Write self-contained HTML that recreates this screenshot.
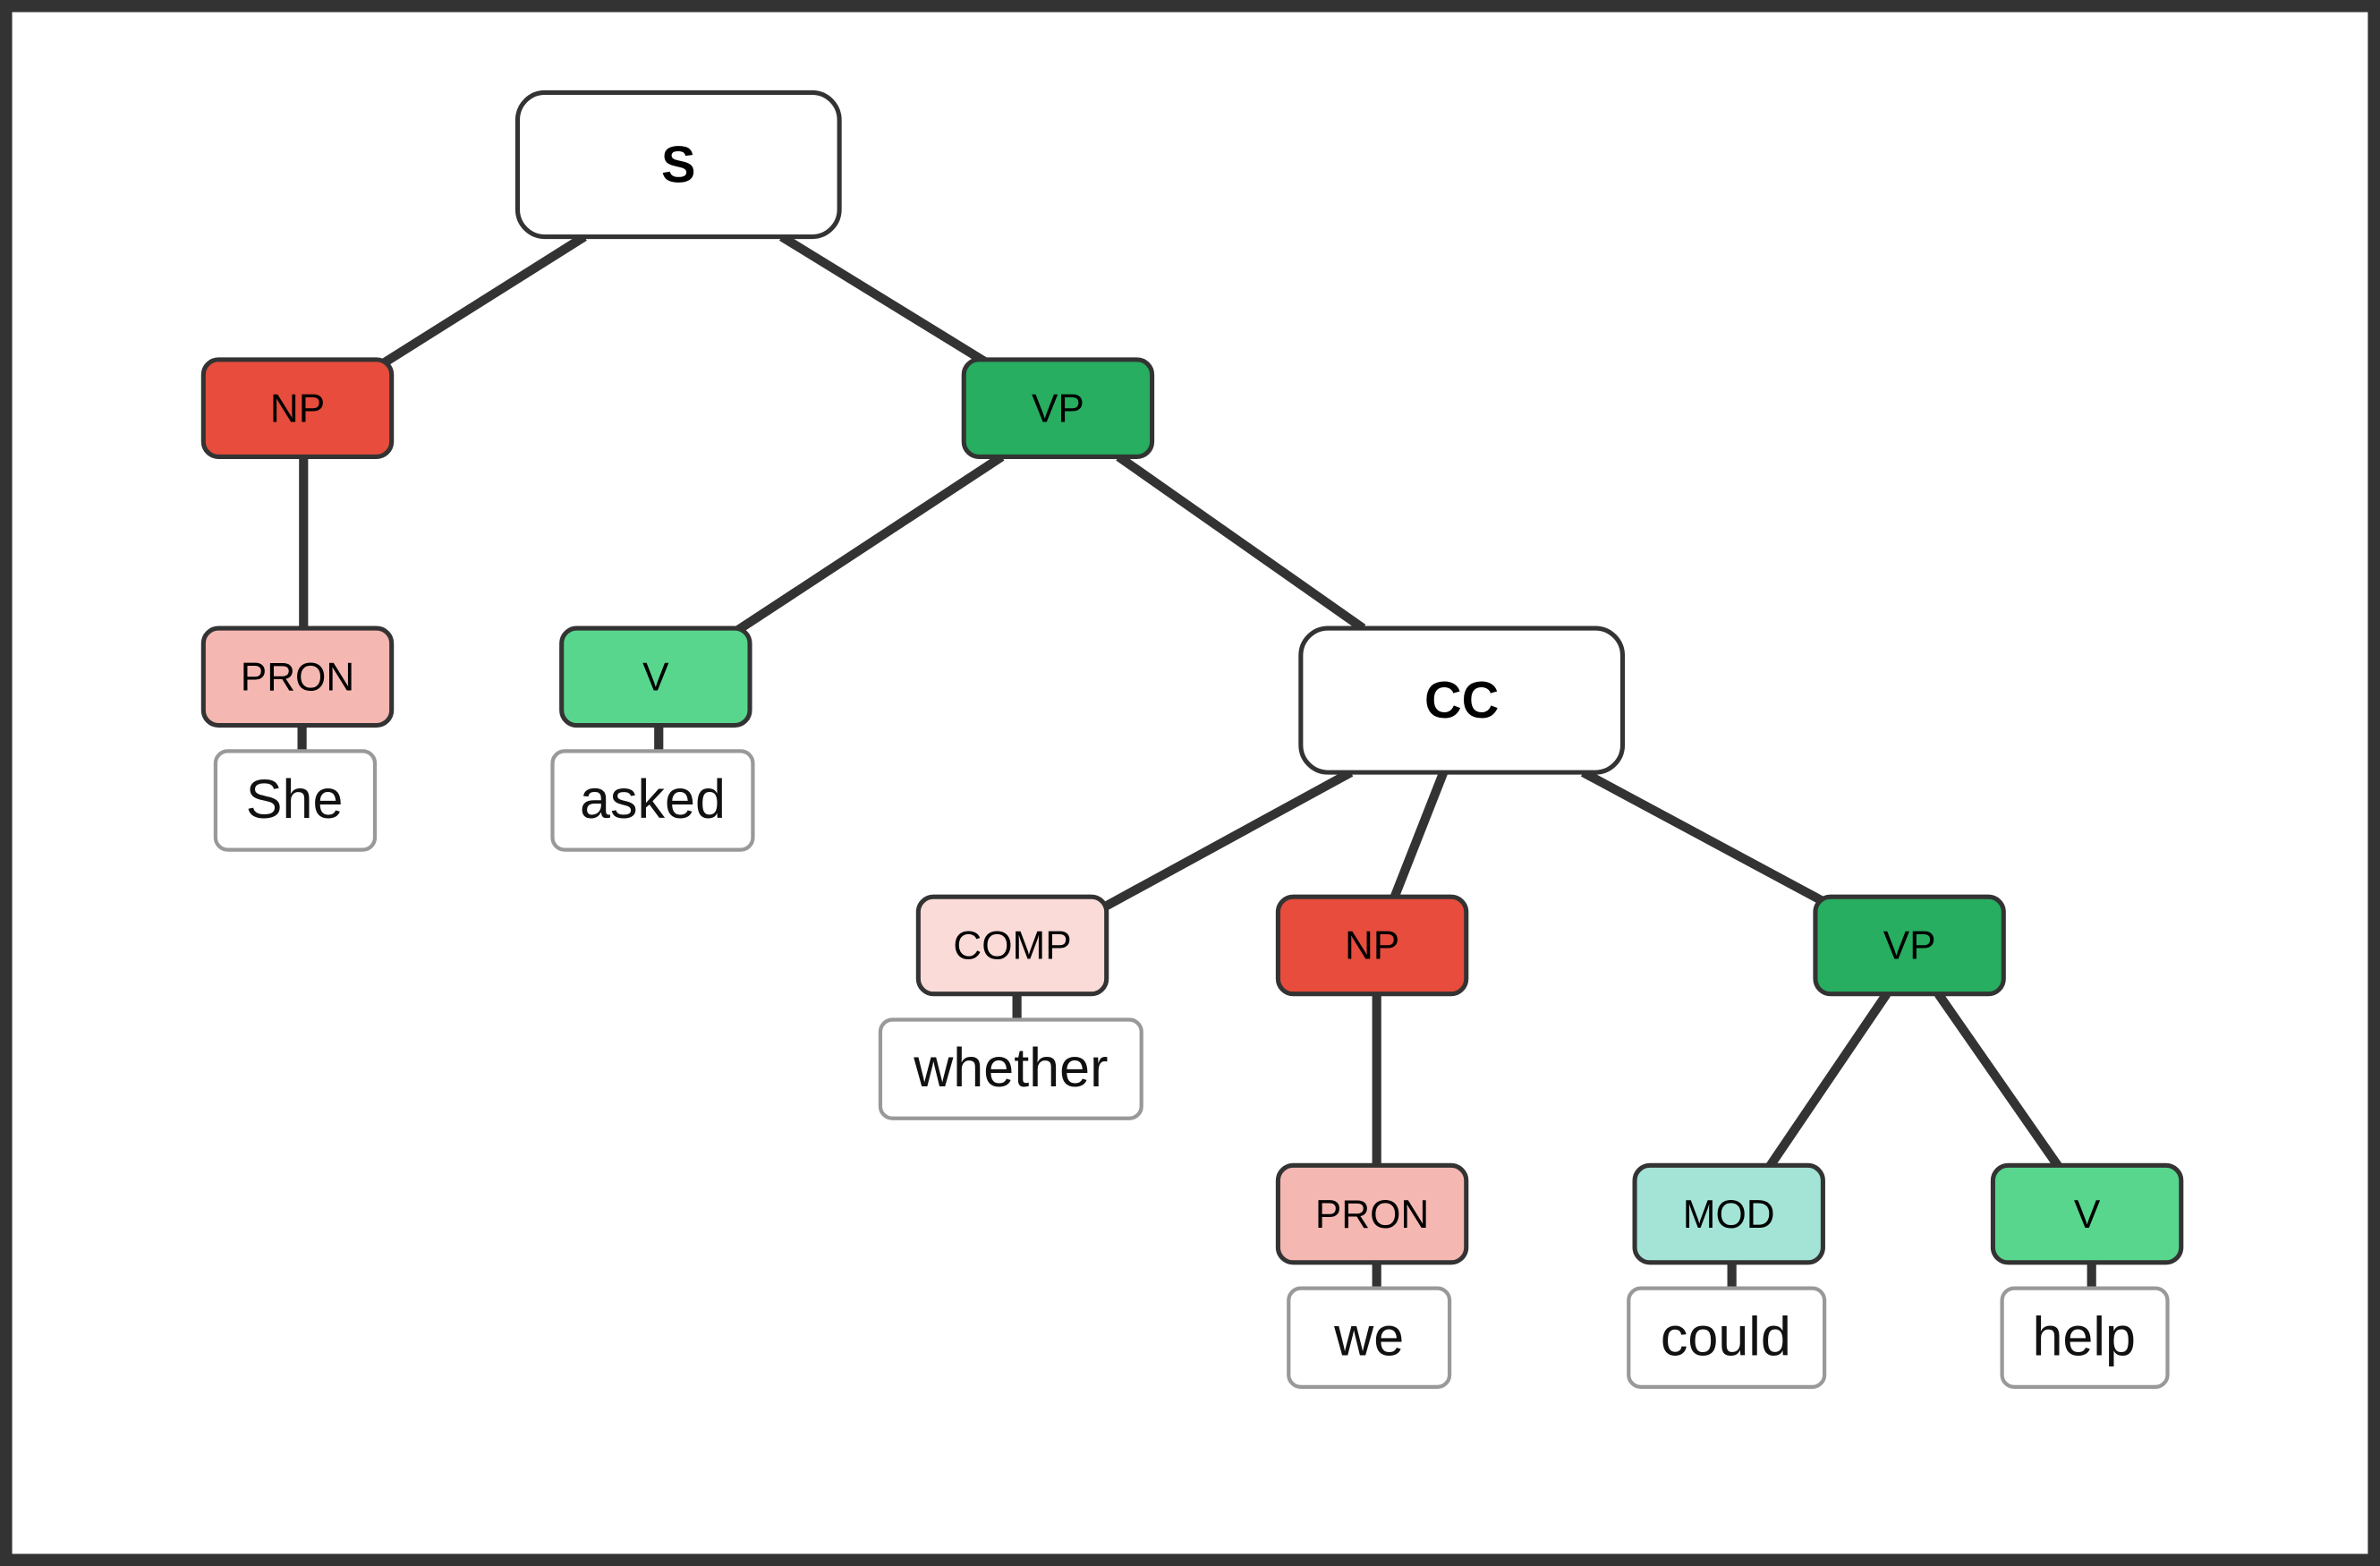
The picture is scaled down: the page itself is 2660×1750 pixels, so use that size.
<!DOCTYPE html>
<html><head><meta charset="utf-8"><style>html,body{margin:0;padding:0;background:#fff}svg{display:block}</style></head>
<body>
<svg width="2660" height="1750" viewBox="0 0 1568 1032" preserveAspectRatio="none" xmlns="http://www.w3.org/2000/svg" font-family="'Liberation Sans', sans-serif">
<rect x="4" y="4" width="1560" height="1024" fill="#fff" stroke="#333" stroke-width="8"/>
<g stroke="#333" stroke-width="6" stroke-linecap="butt">
<line x1="385" y1="156" x2="250" y2="241"/>
<line x1="515" y1="156" x2="650" y2="239"/>
<line x1="200" y1="301" x2="200" y2="414"/>
<line x1="660" y1="301" x2="485" y2="416"/>
<line x1="737" y1="301" x2="898" y2="414"/>
<line x1="199" y1="478" x2="199" y2="495"/>
<line x1="434" y1="478" x2="434" y2="495"/>
<line x1="890" y1="509" x2="727" y2="598"/>
<line x1="951" y1="509" x2="918" y2="593"/>
<line x1="1043" y1="509" x2="1203" y2="595"/>
<line x1="670" y1="655" x2="670" y2="672"/>
<line x1="907" y1="655" x2="907" y2="768"/>
<line x1="1243" y1="655" x2="1165" y2="770"/>
<line x1="1277" y1="655" x2="1357" y2="770"/>
<line x1="907" y1="832" x2="907" y2="849"/>
<line x1="1141" y1="832" x2="1141" y2="849"/>
<line x1="1378" y1="832" x2="1378" y2="849"/>
</g>
<g stroke="#333" stroke-width="3">
<rect x="341" y="61" width="212" height="95" rx="18" fill="#fff"/>
<rect x="857" y="414" width="212" height="95" rx="18" fill="#fff"/>
<rect x="134" y="237" width="124" height="64" rx="10" fill="#e74c3c"/>
<rect x="635" y="237" width="124" height="64" rx="10" fill="#27ae60"/>
<rect x="134" y="414" width="124" height="64" rx="10" fill="#f5b7b1"/>
<rect x="370" y="414" width="124" height="64" rx="10" fill="#58d68d"/>
<rect x="605" y="591" width="124" height="64" rx="10" fill="#fadbd8"/>
<rect x="842" y="591" width="124" height="64" rx="10" fill="#e74c3c"/>
<rect x="1196" y="591" width="124" height="64" rx="10" fill="#27ae60"/>
<rect x="842" y="768" width="124" height="64" rx="10" fill="#f5b7b1"/>
<rect x="1077" y="768" width="124" height="64" rx="10" fill="#a3e4d7"/>
<rect x="1313" y="768" width="124" height="64" rx="10" fill="#58d68d"/>
</g>
<g stroke="#999" stroke-width="2.5" fill="#fff">
<rect x="142" y="495" width="105" height="65" rx="8"/>
<rect x="364" y="495" width="132" height="65" rx="8"/>
<rect x="580" y="672" width="172" height="65" rx="8"/>
<rect x="849" y="849" width="106" height="65" rx="8"/>
<rect x="1073" y="849" width="129" height="65" rx="8"/>
<rect x="1319" y="849" width="109" height="65" rx="8"/>
</g>
<g font-size="34" font-weight="bold" text-anchor="middle" fill="#000">
<text x="447" y="120">S</text>
<text x="963" y="473">CC</text>
</g>
<g font-size="26" text-anchor="middle" fill="#000">
<text x="196" y="278">NP</text>
<text x="697" y="278">VP</text>
<text x="196" y="455">PRON</text>
<text x="432" y="455">V</text>
<text x="667" y="632">COMP</text>
<text x="904" y="632">NP</text>
<text x="1258" y="632">VP</text>
<text x="904" y="809">PRON</text>
<text x="1139" y="809">MOD</text>
<text x="1375" y="809">V</text>
</g>
<g font-size="36" text-anchor="middle" fill="#111">
<text x="194" y="539">She</text>
<text x="430" y="539">asked</text>
<text x="666" y="716">whether</text>
<text x="902" y="893">we</text>
<text x="1137" y="893">could</text>
<text x="1373" y="893">help</text>
</g>
</svg>
</body></html>
